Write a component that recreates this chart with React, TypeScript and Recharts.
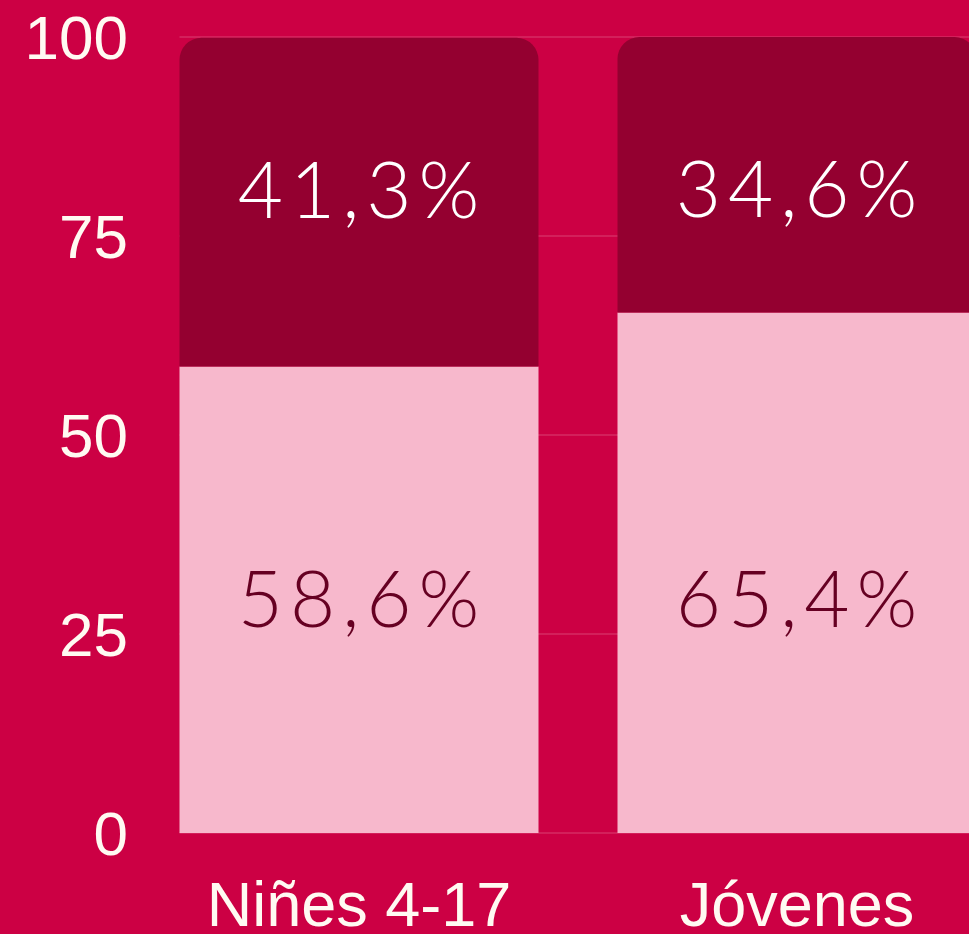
import React from "react";
import { BarChart, Bar, XAxis, YAxis, CartesianGrid, LabelList } from "recharts";

const categories = ["Niñes 4-17", "Jóvenes"];
const baseShare = [58.6, 65.4];
const restShare = [41.3, 34.6];
const yTicks = [0, 25, 50, 75, 100];

const data = categories.map((name, i) => ({
  name,
  base: baseShare[i],
  rest: restShare[i],
}));

const BG = "#cc0044";
const DARK = "#940030";
const LIGHT = "#f7b8cc";
const TICK = "#fffaf2";

const PLOT_LEFT = 140;
const BAND = 438;
const CAT_GAP = 39.5;

const fmt = (v: number) => v.toFixed(1).replace(".", ",") + "%";

// labels sit at a fixed distance from the bar's outer edge
const makeLabel =
  (fromBottom: boolean, dist: number, color: string) => (props: any) => {
    const { x, y, width, height, value } = props;
    const cx = Number(x) + Number(width) / 2;
    const cy = fromBottom ? Number(y) + Number(height) - dist : Number(y) + dist;
    return (
      <text
        x={cx + 3}
        y={cy}
        textAnchor="middle"
        dominantBaseline="central"
        fill={color}
        style={{
          fontFamily: "Lato, sans-serif",
          fontWeight: 300,
          fontSize: 78,
          letterSpacing: 7,
        }}
      >
        {fmt(Number(value))}
      </text>
    );
  };

export default function App() {
  return (
    <div style={{ width: 969, height: 934, overflow: "hidden", background: BG }}>
      <style>{`body{margin:0;background:${BG};}`}</style>
      <BarChart
        width={PLOT_LEFT + BAND * 2}
        height={934}
        data={data}
        margin={{ top: 37, right: 0, bottom: 0, left: 0 }}
        barCategoryGap={`${(CAT_GAP / BAND) * 100}%`}
      >
        <CartesianGrid
          vertical={false}
          x={PLOT_LEFT + CAT_GAP}
          width={900}
          stroke="#f7b8cc"
          strokeOpacity={0.35}
          strokeWidth={1}
        />
        <XAxis
          dataKey="name"
          axisLine={false}
          tickLine={false}
          tickSize={0}
          tickMargin={48}
          height={101}
          interval={0}
          tick={{ fill: TICK, fontSize: 63, fontFamily: "Liberation Sans, Arial, sans-serif" }}
        />
        <YAxis
          domain={[0, 100]}
          ticks={yTicks}
          axisLine={false}
          tickLine={false}
          tickSize={0}
          tickMargin={12}
          width={PLOT_LEFT}
          tick={{ fill: TICK, fontSize: 62, fontFamily: "Liberation Sans, Arial, sans-serif" }}
        />
        <Bar dataKey="base" stackId="a" fill={LIGHT} isAnimationActive={false}>
          <LabelList dataKey="base" content={makeLabel(true, 236, "#660022")} />
        </Bar>
        <Bar dataKey="rest" stackId="a" fill={DARK} radius={[22, 22, 0, 0]} isAnimationActive={false}>
          <LabelList dataKey="rest" content={makeLabel(false, 150, "#ffffff")} />
        </Bar>
      </BarChart>
    </div>
  );
}
